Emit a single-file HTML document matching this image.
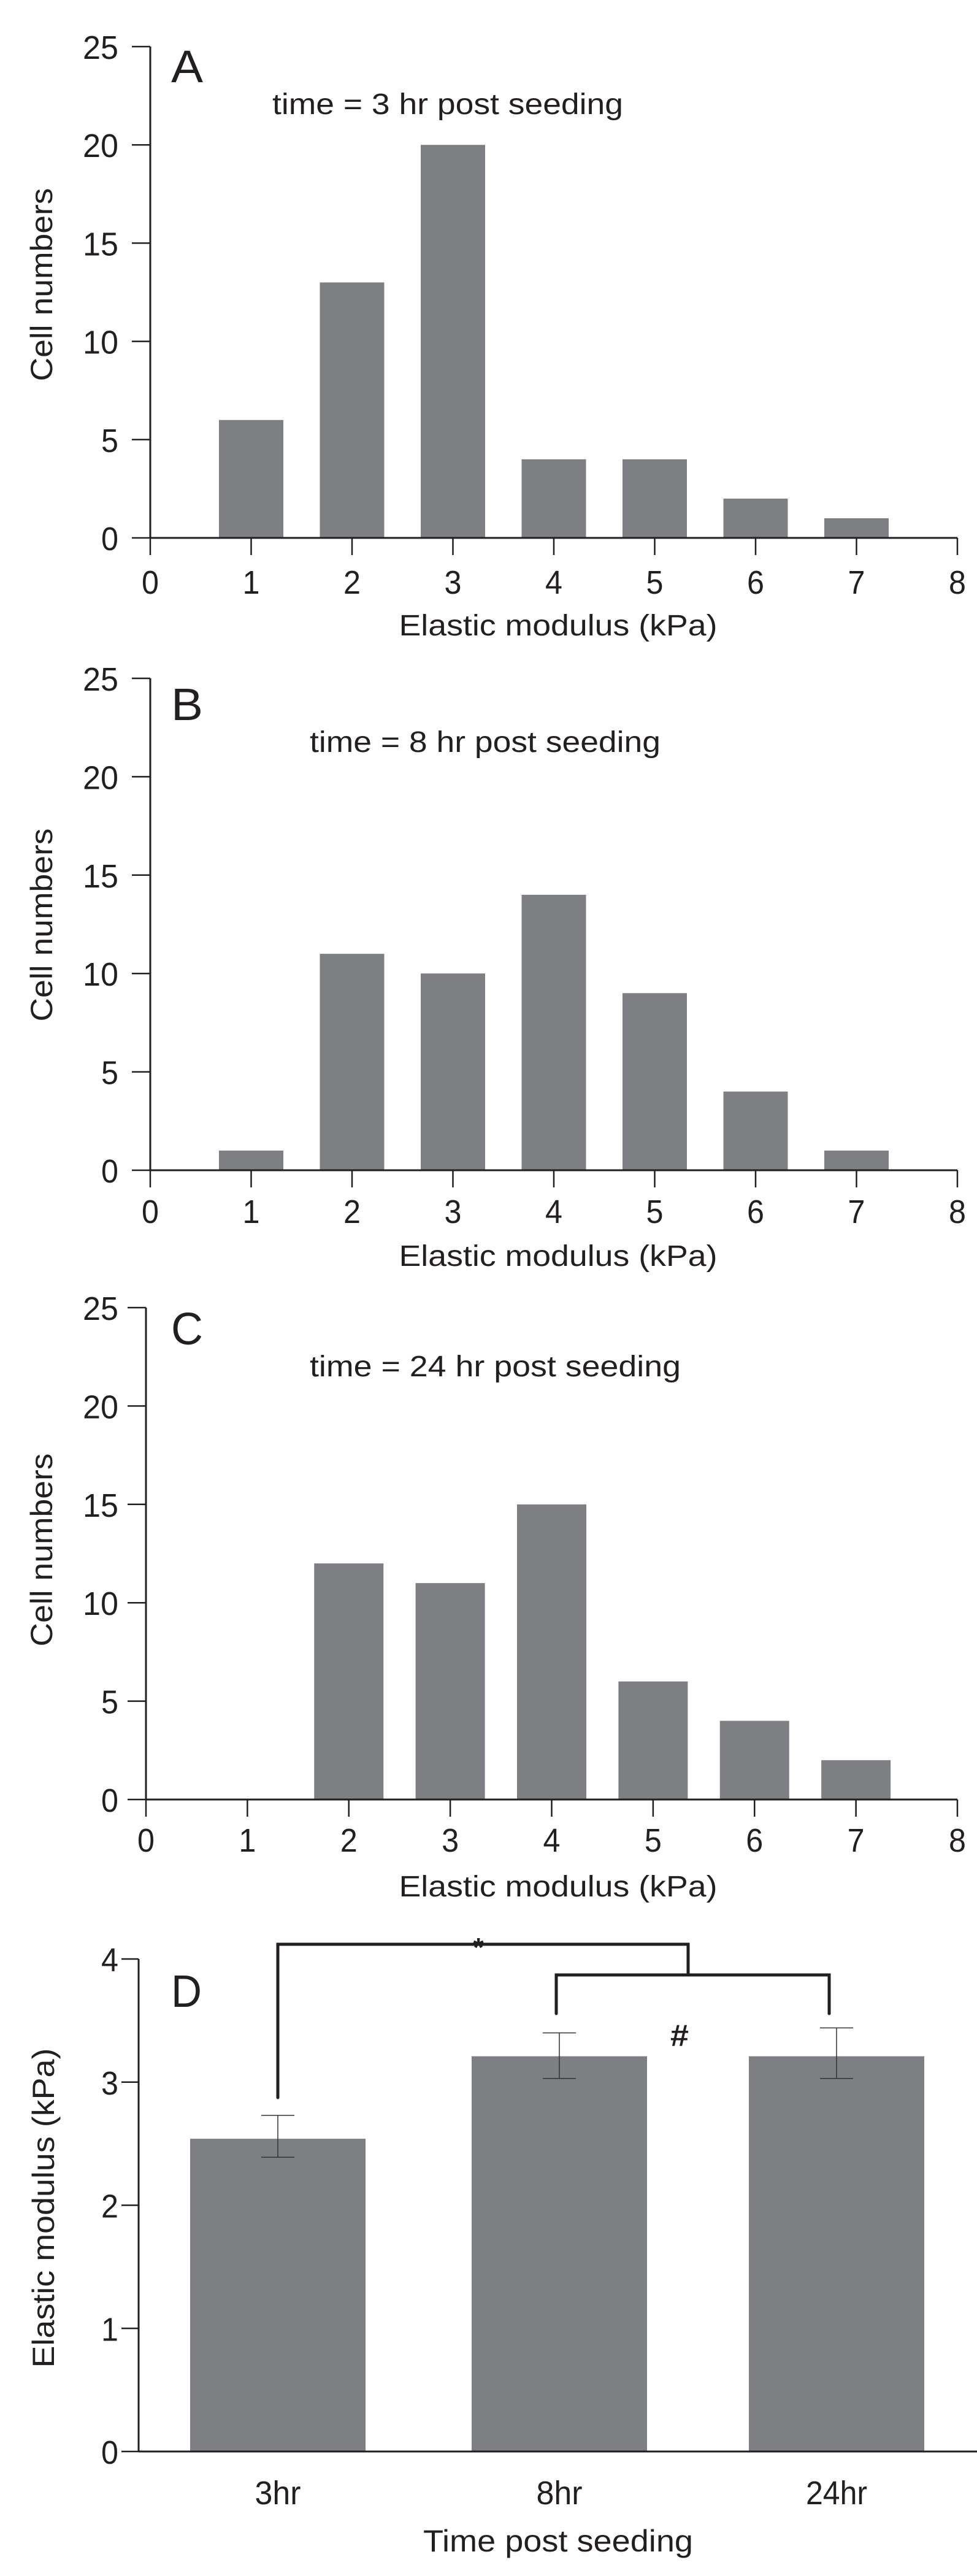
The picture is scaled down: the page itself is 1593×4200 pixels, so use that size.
<!DOCTYPE html>
<html><head><meta charset="utf-8"><style>
html,body{margin:0;padding:0;background:#fff;}
svg{display:block;}
text{font-family:"Liberation Sans",sans-serif;fill:#231f20;}
</style></head>
<body>
<svg id="fig" width="1593" height="4200" viewBox="0 0 1593 4200" xmlns="http://www.w3.org/2000/svg"></svg>
<script>
// Histogram data (panels A-C)
const binCenters = [1, 2, 3, 4, 5, 6, 7];
const countsA = [6, 13, 20, 4, 4, 2, 1];
const countsB = [1, 11, 10, 14, 9, 4, 1];
const countsC = [0, 12, 11, 15, 6, 4, 2];
const histXTicks = [0, 1, 2, 3, 4, 5, 6, 7, 8];
const histYTicks = [0, 5, 10, 15, 20, 25];
// Panel D data
const groupsD = ["3hr", "8hr", "24hr"];
const meansD = [2.54, 3.21, 3.21];
const errUpD = [2.73, 3.40, 3.44];
const errLoD = [2.39, 3.03, 3.03];
const yTicksD = [0, 1, 2, 3, 4];

const NS = "http://www.w3.org/2000/svg";
const svg = document.getElementById("fig");
function el(tag, attrs, parent) {
  const e = document.createElementNS(NS, tag);
  for (const k in attrs) e.setAttribute(k, attrs[k]);
  (parent || svg).appendChild(e);
  return e;
}
function txt(str, attrs, parent) {
  const t = el("text", attrs, parent);
  t.textContent = str;
  return t;
}

const BAR = "#7e7f83";
const INK = "#231f20";

function histPanel(cfg) {
  const g = el("g", {});
  
  
  const x0 = cfg.ax, x8 = 1561, y0 = cfg.y0, y25 = cfg.y25;
  const xs = v => x0 + (x8 - x0) * v / 8;
  const ys = v => y0 - (y0 - y25) * v / 25;
  // bars
  binCenters.forEach((c, i) => {
    const v = cfg.data[i];
    if (v <= 0) return;
    const r = el("rect", {x: xs(c) - cfg.bw / 2, y: ys(v), width: cfg.bw, height: y0 - ys(v), fill: BAR}, g);
    
    
  });
  // axes
  const ya = el("line", {x1: x0, y1: y25, x2: x0, y2: y0, stroke: INK, "stroke-width": 3}, g);
  
  
  const xa = el("line", {x1: x0, y1: y0, x2: x8, y2: y0, stroke: INK, "stroke-width": 3}, g);
  
  
  histYTicks.forEach(v => {
    el("line", {x1: x0 - 30, y1: ys(v), x2: x0, y2: ys(v), stroke: INK, "stroke-width": 2.5}, g);
    const t = txt(String(v), {x: 193, y: ys(v) + 20, "font-size": 54, "text-anchor": "end", textLength: v >= 10 ? 58 : 28, lengthAdjust: "spacingAndGlyphs"}, g);
    
    
  });
  histXTicks.forEach(v => {
    el("line", {x1: xs(v), y1: y0, x2: xs(v), y2: y0 + 28, stroke: INK, "stroke-width": 2.5}, g);
    const t = txt(String(v), {x: xs(v), y: cfg.xlabY, "font-size": 54, "text-anchor": "middle", textLength: 28, lengthAdjust: "spacingAndGlyphs"}, g);
    
    
  });
  const xt = txt("Elastic modulus (kPa)", {x: 910, y: cfg.xtitleY, "font-size": 48, "text-anchor": "middle", textLength: 519, lengthAdjust: "spacingAndGlyphs"}, g);
  
  
  const yt = txt("Cell numbers", {x: 0, y: 0, "font-size": 50, "text-anchor": "middle", transform: "translate(85," + cfg.ytitleC + ") rotate(-90)", textLength: 315, lengthAdjust: "spacingAndGlyphs"}, g);
  
  
  const pl = txt(cfg.letter, {x: 279, y: cfg.letterY, "font-size": 74, textLength: 52, lengthAdjust: "spacingAndGlyphs"}, g);
  
  
  const sub = txt(cfg.subtitle, {x: cfg.subX, y: cfg.subY, "font-size": 48, textLength: cfg.subW, lengthAdjust: "spacingAndGlyphs"}, g);
  
  
}

histPanel({letter: "A", data: countsA, ax: 245, y0: 877, y25: 76, bw: 105, xlabY: 968, xtitleY: 1036, ytitleC: 464, letterY: 134, subtitle: "time = 3 hr post seeding", subX: 444, subY: 186, subW: 572});
histPanel({letter: "B", data: countsB, ax: 245, y0: 1908, y25: 1106, bw: 105, xlabY: 1994, xtitleY: 2064, ytitleC: 1508, letterY: 1174, subtitle: "time = 8 hr post seeding", subX: 505, subY: 1226, subW: 572});
histPanel({letter: "C", data: countsC, ax: 238, y0: 2934, y25: 2132, bw: 113, xlabY: 3019, xtitleY: 3092, ytitleC: 2527, letterY: 2192, subtitle: "time = 24 hr post seeding", subX: 505, subY: 2244, subW: 605});

// Panel D
(function () {
  const g = el("g", {});
  
  
  const x0 = 226, y0 = 3997, y4 = 3194;
  const ys = v => y0 - (y0 - y4) * v / 4;
  const centers = [453, 912, 1364];
  const bw = 286;
  groupsD.forEach((grp, i) => {
    const c = centers[i];
    const r = el("rect", {x: c - bw / 2, y: ys(meansD[i]), width: bw, height: y0 - ys(meansD[i]), fill: BAR}, g);
    
    
    const e = el("path", {d: "M" + c + " " + ys(errLoD[i]) + "V" + ys(errUpD[i]) + "M" + (c - 27) + " " + ys(errUpD[i]) + "H" + (c + 27) + "M" + (c - 27) + " " + ys(errLoD[i]) + "H" + (c + 27), stroke: "#333", "stroke-width": 1.5, fill: "none"}, g);
    
    
    const t = txt(grp, {x: c, y: 4083, "font-size": 54, "text-anchor": "middle", textLength: grp.length * 25, lengthAdjust: "spacingAndGlyphs"}, g);
    
    
  });
  const ya = el("line", {x1: x0, y1: y4, x2: x0, y2: y0, stroke: INK, "stroke-width": 3}, g);
  
  
  const xa = el("line", {x1: x0, y1: y0, x2: 1593, y2: y0, stroke: INK, "stroke-width": 3}, g);
  
  
  yTicksD.forEach(v => {
    el("line", {x1: x0 - 28, y1: ys(v), x2: x0, y2: ys(v), stroke: INK, "stroke-width": 2.5}, g);
    const t = txt(String(v), {x: 193, y: ys(v) + 20, "font-size": 54, "text-anchor": "end", textLength: 28, lengthAdjust: "spacingAndGlyphs"}, g);
    
    
  });
  const xt = txt("Time post seeding", {x: 910, y: 4160, "font-size": 50, "text-anchor": "middle", textLength: 440, lengthAdjust: "spacingAndGlyphs"}, g);
  
  
  const yt = txt("Elastic modulus (kPa)", {x: 0, y: 0, "font-size": 50, "text-anchor": "middle", transform: "translate(88,3600) rotate(-90)", textLength: 521, lengthAdjust: "spacingAndGlyphs"}, g);
  
  
  const pl = txt("D", {x: 279, y: 3272, "font-size": 74, textLength: 50, lengthAdjust: "spacingAndGlyphs"}, g);
  
  
  const b1 = el("path", {d: "M453 3420V3170H1122V3220", stroke: INK, "stroke-width": 5, fill: "none", "stroke-linecap": "round"}, g);
  
  
  const b2 = el("path", {d: "M907 3283V3220H1352V3283", stroke: INK, "stroke-width": 5, fill: "none", "stroke-linecap": "round"}, g);
  
  
  const s = txt("*", {x: 780, y: 3190, "font-size": 44, "font-weight": "bold", "text-anchor": "middle"}, g);
  
  
  const h = txt("#", {x: 1108, y: 3336, "font-size": 50, "font-weight": "bold", "text-anchor": "middle", textLength: 30, lengthAdjust: "spacingAndGlyphs"}, g);
  
  
})();
</script>
</body></html>
